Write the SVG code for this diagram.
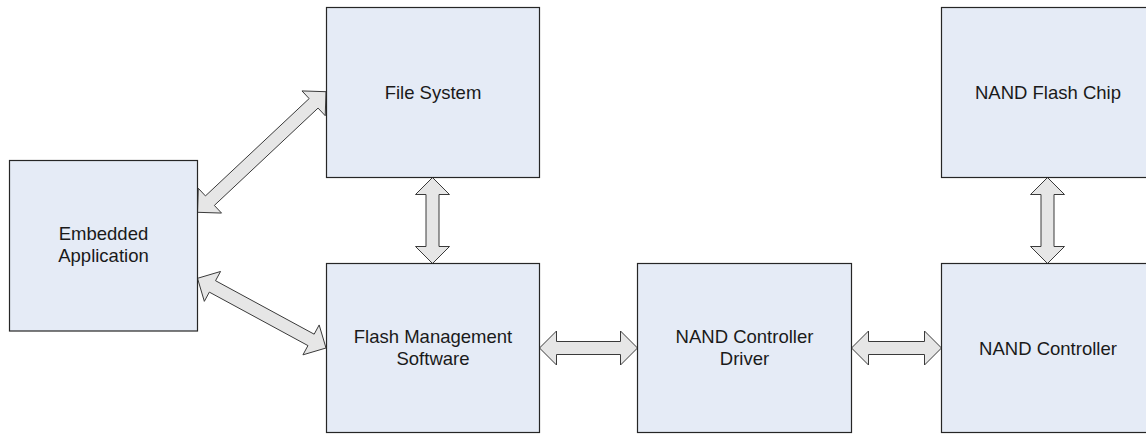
<svg xmlns="http://www.w3.org/2000/svg" width="1146" height="434" viewBox="0 0 1146 434">
  <style>
    .box { fill: #e5ebf6; stroke: #262626; stroke-width: 1.2; }
    .lbl { font-family: "Liberation Sans", Arial, sans-serif; font-size: 18.5px; fill: #1a1a1a; text-anchor: middle; }
    .arr { fill: #e6e6e6; stroke: #3a3a3a; stroke-width: 1; stroke-linejoin: miter; }
  </style>
  <rect width="1146" height="434" fill="#ffffff"/>

  <!-- double-headed block arrows, drawn beneath the boxes -->
  <g id="connectors">
    <!-- Embedded Application <-> File System -->
    <polygon class="arr" points="197.5,212.3 221.53,213.07 214.35,205.41 318.05,108.07 325.23,115.73 326,91.7 301.97,90.93 309.15,98.59 205.45,195.93 198.27,188.27"/>
    <!-- Embedded Application <-> Flash Management Software -->
    <polygon class="arr" points="197.5,278.3 204.33,301.35 209.34,292.12 307.96,345.6 302.95,354.83 326,348 319.17,324.95 314.16,334.18 215.54,280.7 220.55,271.47"/>
    <!-- File System <-> Flash Management Software -->
    <polygon class="arr" points="432.5,177.5 449.5,194.5 439,194.5 439,246.5 449.5,246.5 432.5,263.5 415.5,246.5 426,246.5 426,194.5 415.5,194.5"/>
    <!-- Flash Management Software <-> NAND Controller Driver -->
    <polygon class="arr" points="539.5,348 556.5,331 556.5,341.5 620.5,341.5 620.5,331 637.5,348 620.5,365 620.5,354.5 556.5,354.5 556.5,365"/>
    <!-- NAND Controller Driver <-> NAND Controller -->
    <polygon class="arr" points="851.5,348 868.5,331 868.5,341.5 924.5,341.5 924.5,331 941.5,348 924.5,365 924.5,354.5 868.5,354.5 868.5,365"/>
    <!-- NAND Flash Chip <-> NAND Controller -->
    <polygon class="arr" points="1047.5,177.5 1064.5,194.5 1054,194.5 1054,246.5 1064.5,246.5 1047.5,263.5 1030.5,246.5 1041,246.5 1041,194.5 1030.5,194.5"/>
  </g>

  <g id="embedded-application">
    <rect class="box" x="9.5" y="160.5" width="188" height="170.5"/>
    <text class="lbl" x="103.5" y="240">Embedded</text>
    <text class="lbl" x="103.5" y="262">Application</text>
  </g>

  <g id="file-system">
    <rect class="box" x="326.5" y="7.5" width="213" height="170"/>
    <text class="lbl" x="433" y="98.6">File System</text>
  </g>

  <g id="flash-management-software">
    <rect class="box" x="326.5" y="263.5" width="213" height="169"/>
    <text class="lbl" x="433" y="342.5">Flash Management</text>
    <text class="lbl" x="433" y="364.5">Software</text>
  </g>

  <g id="nand-controller-driver">
    <rect class="box" x="637.5" y="263.5" width="214" height="169"/>
    <text class="lbl" x="744.5" y="342.5">NAND Controller</text>
    <text class="lbl" x="744.5" y="364.5">Driver</text>
  </g>

  <g id="nand-flash-chip">
    <rect class="box" x="941.5" y="7.5" width="213" height="170"/>
    <text class="lbl" x="1048" y="98.6">NAND Flash Chip</text>
  </g>

  <g id="nand-controller">
    <rect class="box" x="941.5" y="263.5" width="213" height="169"/>
    <text class="lbl" x="1048" y="354.6">NAND Controller</text>
  </g>
</svg>
